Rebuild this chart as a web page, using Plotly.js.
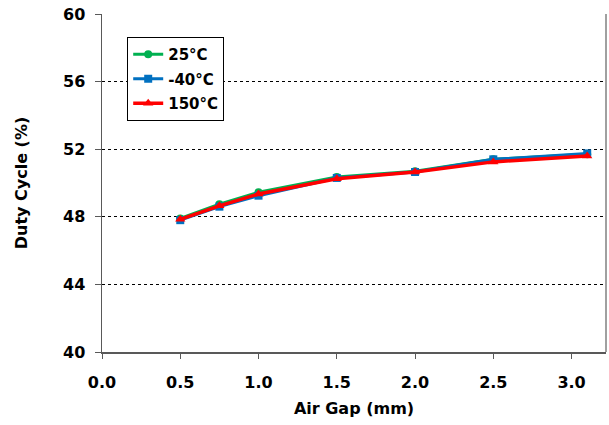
<!DOCTYPE html>
<html>
<head>
<meta charset="utf-8">
<script src="https://cdn.plot.ly/plotly-3.0.1.min.js"></script>
<style>html,body{margin:0;padding:0;background:#fff;}#chart{width:609px;height:425px;}</style>
</head>
<body>
<div id="chart"></div>
<script>
var airGap = [0.5, 0.75, 1.0, 1.5, 2.0, 2.5, 3.1];
var duty25 = [47.9, 48.75, 49.45, 50.35, 50.7, 51.4, 51.7];
var dutyM40 = [47.8, 48.6, 49.25, 50.3, 50.65, 51.4, 51.75];
var duty150 = [47.85, 48.65, 49.35, 50.25, 50.65, 51.25, 51.6];
var seriesNames = ['25°C', '-40°C', '150°C'];
var xTicks = [0, 0.5, 1.0, 1.5, 2.0, 2.5, 3.0];
var xTickText = ['0.0', '0.5', '1.0', '1.5', '2.0', '2.5', '3.0'];
var yTicks = [40, 44, 48, 52, 56, 60];

var font = 'DejaVu Sans, Arial, sans-serif';
var traces = [
  {x: airGap, y: duty25, name: seriesNames[0], mode: 'lines+markers', legendgroup: 'a',
   line: {color: '#00B050', width: 3}, marker: {symbol: 'circle', size: 8, color: '#00B050'}},
  {x: airGap, y: dutyM40, name: seriesNames[1], mode: 'lines+markers', legendgroup: 'b',
   line: {color: '#0070C0', width: 3}, marker: {symbol: 'square', size: 8, color: '#0070C0'}},
  {x: airGap, y: duty150, name: seriesNames[2], mode: 'lines+markers', legendgroup: 'c',
   line: {color: '#FF0000', width: 3.5}, marker: {symbol: 'triangle-up', size: 9, color: '#FF0000'}}
];
var layout = {
  width: 609, height: 425,
  margin: {l: 102, r: 3, t: 14, b: 73},
  paper_bgcolor: '#fff', plot_bgcolor: '#fff',
  font: {family: font, size: 16, color: '#000'},
  showlegend: true,
  legend: {x: 0.05, y: 0.932, xanchor: 'left', yanchor: 'top',
    bgcolor: '#fff', bordercolor: '#000', borderwidth: 1,
    font: {family: font, size: 15, color: '#000', weight: 'bold'},
    tracegroupgap: 2, itemwidth: 30},
  xaxis: {
    range: [0, 3.22], tickvals: xTicks, ticktext: xTickText,
    showgrid: false, zeroline: false,
    showline: true, linecolor: '#595959', linewidth: 1.5,
    ticks: 'outside', ticklen: 5, tickcolor: '#595959',
    ticklabelstandoff: 10,
    tickfont: {family: font, size: 16, weight: 'bold'},
    title: {text: 'Air Gap (mm)', font: {family: font, size: 16, weight: 'bold'}, standoff: 12}
  },
  yaxis: {
    range: [40, 60], tickvals: yTicks,
    showgrid: true, gridcolor: '#000', griddash: 'dot', gridwidth: 1,
    zeroline: false,
    showline: true, linecolor: '#595959', linewidth: 1.5,
    ticks: 'outside', ticklen: 6, tickcolor: '#595959',
    ticklabelstandoff: 6,
    tickfont: {family: font, size: 16, weight: 'bold'},
    title: {text: 'Duty Cycle (%)', font: {family: font, size: 16, weight: 'bold'}, standoff: 31}
  },
  shapes: [
    {type: 'line', xref: 'paper', yref: 'paper', x0: 1, x1: 1, y0: 0, y1: 1,
     line: {color: '#808080', width: 1.5}}
  ]
};
Plotly.newPlot('chart', traces, layout, {displayModeBar: false, staticPlot: true});
</script>
</body>
</html>
